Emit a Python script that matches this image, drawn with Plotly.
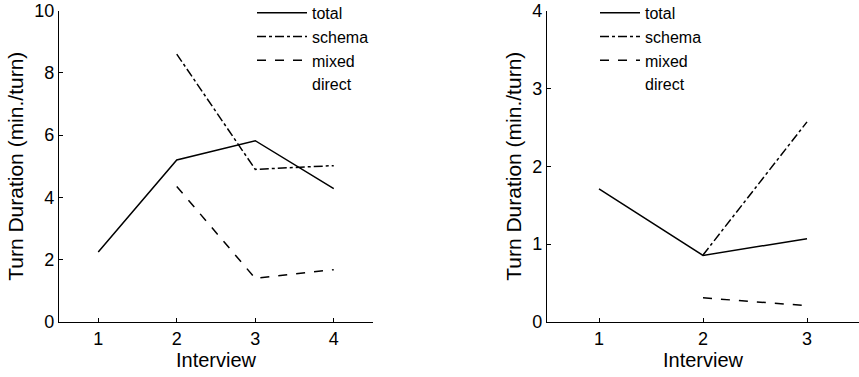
import plotly.graph_objects as go

# Left panel data (4 interviews)
interviews_left = [1, 2, 3, 4]
total_left = [2.25, 5.2, 5.82, 4.28]
schema_left = [None, 8.6, 4.9, 5.02]
mixed_left = [None, 4.35, 1.4, 1.68]
direct_left = [None, None, None, None]

# Right panel data (3 interviews)
interviews_right = [1, 2, 3]
total_right = [1.71, 0.855, 1.07]
schema_right = [None, 0.86, 2.57]
mixed_right = [None, 0.31, 0.21]
direct_right = [None, None, None]

series_names = ["total", "schema", "mixed", "direct"]
yticks_left = [0, 2, 4, 6, 8, 10]
yticks_right = [0, 1, 2, 3, 4]

FONT = "Liberation Sans, Arial, Helvetica, sans-serif"
styles = [
    dict(color="black", width=1.5, dash="solid"),
    dict(color="black", width=1.5, dash="dashdot"),
    dict(color="black", width=1.5, dash="dash"),
    dict(color="rgba(0,0,0,0)", width=1.5, dash="dot"),
]

fig = go.Figure()
left_sets = [total_left, schema_left, mixed_left, direct_left]
right_sets = [total_right, schema_right, mixed_right, direct_right]
for name, ys, st in zip(series_names, left_sets, styles):
    fig.add_trace(go.Scatter(x=interviews_left, y=ys, mode="lines", name=name,
                             line=st, xaxis="x", yaxis="y", legend="legend",
                             connectgaps=False))
for name, ys, st in zip(series_names, right_sets, styles):
    fig.add_trace(go.Scatter(x=interviews_right, y=ys, mode="lines", name=name,
                             line=st, xaxis="x2", yaxis="y2", legend="legend2",
                             connectgaps=False))

W, H = 859, 377
ydom = [(H - 322) / H, (H - 10.5) / H]
axis_common = dict(showline=True, linecolor="black", linewidth=1.3, ticks="inside",
                   ticklen=4, tickcolor="black", showgrid=False, zeroline=False,
                   automargin=False,
                   tickfont=dict(family=FONT, size=18, color="black"),
                   mirror=False)
xtitle_font = dict(family=FONT, size=20, color="black")
ytitle_font = dict(family=FONT, size=21, color="black")

fig.update_layout(
    width=W, height=H, margin=dict(l=0, r=0, t=0, b=0, autoexpand=False),
    paper_bgcolor="white", plot_bgcolor="white",
    font=dict(family=FONT, size=18, color="black"),
    xaxis=dict(domain=[59 / W, 373 / W], range=[0.5, 4.5], tickvals=interviews_left,
               title=dict(text="Interview", standoff=2, font=xtitle_font), anchor="y", **axis_common),
    yaxis=dict(domain=ydom, range=[0, 10], tickvals=yticks_left,
               title=dict(text="Turn Duration (min./turn)", standoff=4, font=ytitle_font),
               anchor="x", **axis_common),
    xaxis2=dict(domain=[547 / W, 1.0], range=[0.5, 3.5], tickvals=interviews_right,
                title=dict(text="Interview", standoff=2, font=xtitle_font), anchor="y2", **axis_common),
    yaxis2=dict(domain=ydom, range=[0, 4], tickvals=yticks_right,
                title=dict(text="Turn Duration (min./turn)", standoff=4, font=ytitle_font),
                anchor="x2", **axis_common),
    legend=dict(x=252 / W, y=1.011, xanchor="left", yanchor="top", bgcolor="rgba(0,0,0,0)",
                font=dict(family=FONT, size=16), itemwidth=50, tracegroupgap=0),
    legend2=dict(x=595 / W, y=1.011, xanchor="left", yanchor="top", bgcolor="rgba(0,0,0,0)",
                 font=dict(family=FONT, size=16), itemwidth=40, tracegroupgap=0),
)

fig.write_html("out.html", config={"displayModeBar": False},
               post_script="document.body.style.margin='0';document.body.style.overflow='hidden';")
